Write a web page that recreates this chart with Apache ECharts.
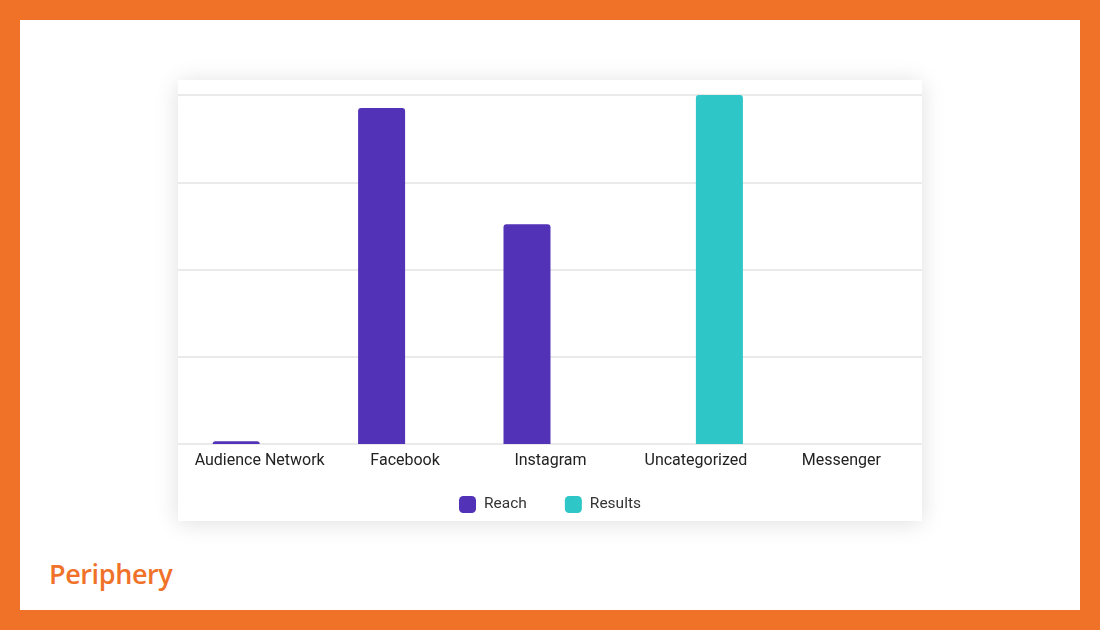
<!DOCTYPE html>
<html>
<head>
<meta charset="utf-8">
<script src="https://cdn.jsdelivr.net/npm/echarts@6/dist/echarts.min.js"></script>
<style>
  html, body { margin: 0; padding: 0; }
  body { width: 1100px; height: 630px; background: #F07229; position: relative; overflow: hidden; }
  #inner { position: absolute; left: 20px; top: 20px; width: 1060px; height: 590px; background: #ffffff; }
  #card { position: absolute; left: 178px; top: 80px; width: 744px; height: 441px; background: #ffffff;
          box-shadow: 0 2px 22px rgba(0,0,0,0.13); }
  #logo { position: absolute; left: 49px; top: 556px; font-family: 'Open Sans', Lato, sans-serif;
          font-weight: 600; font-size: 27px; color: #F07229; letter-spacing: -0.4px; line-height: 36px; }
</style>
</head>
<body>
<div id="inner"></div>
<div id="card"></div>
<div id="logo">Periphery</div>
<script>
const categories = ['Audience Network', 'Facebook', 'Instagram', 'Uncategorized', 'Messenger'];
const reachValues = [0.8, 96.3, 63, null, null];
const resultsValues = [null, null, null, 100, null];
const seriesNames = ['Reach', 'Results'];
const seriesColors = ['#5233B8', '#2EC6C6'];

const chart = echarts.init(document.getElementById('card'), null, { renderer: 'canvas' });
const font = 'Roboto, "Noto Sans", sans-serif';
chart.setOption({
  animation: false,
  textStyle: { fontFamily: font },
  legend: {
    data: seriesNames,
    left: 'center',
    top: 411,
    itemWidth: 17,
    itemHeight: 17,
    itemGap: 38,
    icon: 'roundRect',
    textStyle: { fontSize: 15.5, color: '#333', fontFamily: font, padding: [0, 0, 0, 3] }
  },
  grid: [
    { left: 9, width: 727, top: 15, height: 349 },
    { left: 0, width: 744, top: 15, height: 349 }
  ],
  xAxis: [
    {
      gridIndex: 0, type: 'category', data: categories,
      axisLine: { show: false }, axisTick: { show: false },
      axisLabel: { color: '#222', fontSize: 16, margin: 9, interval: 0, fontFamily: font }
    },
    { gridIndex: 1, type: 'value', show: false }
  ],
  yAxis: [
    {
      gridIndex: 0, type: 'value', min: 0, max: 100, interval: 25,
      axisLabel: { show: false }, axisLine: { show: false }, axisTick: { show: false },
      splitLine: { show: false }
    },
    {
      gridIndex: 1, type: 'value', min: 0, max: 100, interval: 25,
      axisLabel: { show: false }, axisLine: { show: false }, axisTick: { show: false },
      splitLine: { show: true, lineStyle: { color: '#e3e3e3', width: 1.5 } }
    }
  ],
  series: [
    {
      name: seriesNames[0], type: 'bar', data: reachValues, xAxisIndex: 0, yAxisIndex: 0,
      barWidth: 47, barGap: '0%', z: 3,
      itemStyle: { color: seriesColors[0], borderRadius: [3, 3, 0, 0] }
    },
    {
      name: seriesNames[1], type: 'bar', data: resultsValues, xAxisIndex: 0, yAxisIndex: 0,
      barWidth: 47, barGap: '0%', z: 3,
      itemStyle: { color: seriesColors[1], borderRadius: [3, 3, 0, 0] }
    }
  ]
});
</script>
</body>
</html>
